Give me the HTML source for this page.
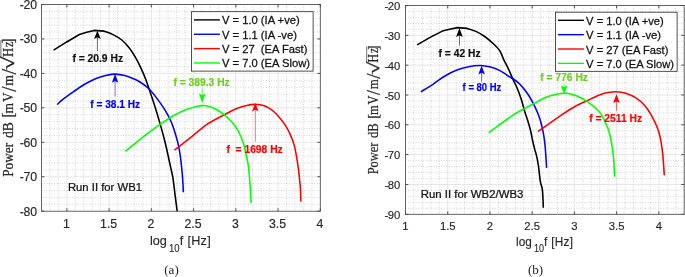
<!DOCTYPE html>
<html><head><meta charset="utf-8"><title>Power spectra</title>
<style>html,body{margin:0;padding:0;background:#fff}body{width:685px;height:277px;overflow:hidden;position:relative}</style>
</head><body>
<svg width="685" height="277" viewBox="0 0 685 277" style="position:absolute;left:0;top:0;display:block">
<rect width="685" height="277" fill="#fff"/>
<rect x="41.5" y="4.5" width="278.8" height="206.7" fill="#fff"/>
<path d="M49.95 4.5V211.2M58.4 4.5V211.2M75.29 4.5V211.2M83.74 4.5V211.2M92.19 4.5V211.2M100.64 4.5V211.2M117.54 4.5V211.2M125.98 4.5V211.2M134.43 4.5V211.2M142.88 4.5V211.2M159.78 4.5V211.2M168.23 4.5V211.2M176.68 4.5V211.2M185.12 4.5V211.2M202.02 4.5V211.2M210.47 4.5V211.2M218.92 4.5V211.2M227.37 4.5V211.2M244.26 4.5V211.2M252.71 4.5V211.2M261.16 4.5V211.2M269.61 4.5V211.2M286.51 4.5V211.2M294.95 4.5V211.2M303.4 4.5V211.2M311.85 4.5V211.2M41.5 204.31H320.3M41.5 197.42H320.3M41.5 190.53H320.3M41.5 183.64H320.3M41.5 169.86H320.3M41.5 162.97H320.3M41.5 156.08H320.3M41.5 149.19H320.3M41.5 135.41H320.3M41.5 128.52H320.3M41.5 121.63H320.3M41.5 114.74H320.3M41.5 100.96H320.3M41.5 94.07H320.3M41.5 87.18H320.3M41.5 80.29H320.3M41.5 66.51H320.3M41.5 59.62H320.3M41.5 52.73H320.3M41.5 45.84H320.3M41.5 32.06H320.3M41.5 25.17H320.3M41.5 18.28H320.3M41.5 11.39H320.3" stroke="#9c9c9c" stroke-width="0.55" stroke-dasharray="0.8 1.75" fill="none"/>
<path d="M66.85 4.5V211.2M109.09 4.5V211.2M151.33 4.5V211.2M193.57 4.5V211.2M235.82 4.5V211.2M278.06 4.5V211.2M41.5 176.75H320.3M41.5 142.3H320.3M41.5 107.85H320.3M41.5 73.4H320.3M41.5 38.95H320.3" stroke="#dfdfdf" stroke-width="0.8" fill="none"/>
<g fill="none" stroke-width="1.58" stroke-linejoin="round">
<path d="M53.6 50.2L66.3 42.2L79.4 34.5L86.7 32.3L94.2 30.4L104.2 31.15C105.67 31.73 110.07 33.12 113 34.6C115.93 36.07 119.05 37.73 121.8 40C124.55 42.27 127.08 45.05 129.5 48.2C131.92 51.35 134.32 55.42 136.3 58.9C138.28 62.38 139.87 65.8 141.4 69.1C142.93 72.4 144.17 75.23 145.5 78.7C146.83 82.17 148.02 85.85 149.4 89.9C150.78 93.95 152.53 99.1 153.8 103C155.07 106.9 155.9 109.65 157 113.3C158.1 116.95 159.23 120.78 160.4 124.9C161.57 129.02 162.98 134.1 164 138C165.02 141.9 165.77 145.13 166.5 148.3C167.23 151.47 167.72 153.85 168.4 157C169.08 160.15 169.87 163.87 170.6 167.2C171.33 170.53 172.27 174.08 172.8 177C173.33 179.92 173.35 181.15 173.8 184.7C174.25 188.25 174.93 193.87 175.5 198.3C176.07 202.73 176.92 209.13 177.2 211.3" stroke="#000"/>
<path d="M57.2 104.6C58.1 103.78 59.87 101.85 62.6 99.7C65.33 97.55 70.07 94.18 73.6 91.7C77.13 89.22 80.15 86.97 83.8 84.8C87.45 82.63 91.85 80.25 95.5 78.7C99.15 77.15 102.33 76.27 105.7 75.5C109.07 74.73 112.53 74.08 115.7 74.1C118.87 74.12 121.75 74.83 124.7 75.6C127.65 76.37 130.85 77.63 133.4 78.7C135.95 79.77 137.33 80.25 140 82C142.67 83.75 146.37 86.18 149.4 89.2C152.43 92.22 155.57 96.58 158.2 100.1C160.83 103.62 163.02 106.65 165.2 110.3C167.38 113.95 169.55 117.87 171.3 122C173.05 126.13 174.43 130.88 175.7 135.1C176.97 139.32 178.05 143.17 178.9 147.3C179.75 151.43 180.23 155.37 180.8 159.9C181.37 164.43 181.93 170.37 182.3 174.5C182.67 178.63 182.83 181.73 183 184.7C183.17 187.67 183.25 191.03 183.3 192.3" stroke="#0000ff"/>
<path d="M174.5 150.1C177.38 147.85 186.45 140.83 191.8 136.6C197.15 132.37 201.33 128.27 206.6 124.7C211.87 121.13 218.17 117.97 223.4 115.2C228.63 112.43 234.12 109.73 238 108.1C241.88 106.47 243.83 106.02 246.7 105.4C249.57 104.78 252.28 104.35 255.2 104.4C258.12 104.45 261.23 104.63 264.2 105.7C267.17 106.77 270.27 108.6 273 110.8C275.73 113 278.58 116.55 280.6 118.9C282.62 121.25 283.68 122.72 285.1 124.9C286.52 127.08 287.58 128.63 289.1 132C290.62 135.37 292.73 139.62 294.2 145.1C295.67 150.58 297 159.1 297.9 164.9C298.8 170.7 299.17 175.77 299.6 179.9C300.03 184.03 300.3 186.1 300.5 189.7C300.7 193.3 300.75 199.53 300.8 201.5" stroke="#ff0000"/>
<path d="M125.3 151.4C128.35 148.93 137.75 141.13 143.6 136.6C149.45 132.07 155.3 127.75 160.4 124.2C165.5 120.65 170 117.7 174.2 115.3C178.4 112.9 181.7 111.32 185.6 109.8C189.5 108.28 194.82 106.9 197.6 106.2C200.38 105.5 200.68 105.63 202.3 105.6C203.92 105.57 205.02 105.4 207.3 106C209.58 106.6 213.08 107.67 216 109.2C218.92 110.73 222.4 113.32 224.8 115.2C227.2 117.08 228.82 118.88 230.4 120.5C231.98 122.12 233.03 123.23 234.3 124.9C235.57 126.57 236.53 127.62 238 130.5C239.47 133.38 241.87 138.73 243.1 142.2C244.33 145.67 244.55 147.52 245.4 151.3C246.25 155.08 247.48 160.13 248.2 164.9C248.92 169.67 249.33 175.77 249.7 179.9C250.07 184.03 250.15 185.87 250.4 189.7C250.65 193.53 251.07 200.7 251.2 202.9" stroke="#00ff00"/>
</g>
<path d="M66.85 211.2v-2.9M66.85 4.5v2.9M109.09 211.2v-2.9M109.09 4.5v2.9M151.33 211.2v-2.9M151.33 4.5v2.9M193.57 211.2v-2.9M193.57 4.5v2.9M235.82 211.2v-2.9M235.82 4.5v2.9M278.06 211.2v-2.9M278.06 4.5v2.9M320.3 211.2v-2.9M320.3 4.5v2.9M41.5 4.5h2.9M320.3 4.5h-2.9M41.5 38.95h2.9M320.3 38.95h-2.9M41.5 73.4h2.9M320.3 73.4h-2.9M41.5 107.85h2.9M320.3 107.85h-2.9M41.5 142.3h2.9M320.3 142.3h-2.9M41.5 176.75h2.9M320.3 176.75h-2.9M41.5 211.2h2.9M320.3 211.2h-2.9" stroke="#262626" stroke-width="0.8" fill="none"/>
<rect x="41.5" y="4.5" width="278.8" height="206.7" fill="none" stroke="#484848" stroke-width="0.85"/>
<g font-family="'Liberation Sans',Arial,sans-serif" font-size="12.3" fill="#262626" stroke="#262626" stroke-width="0.15">
<text transform="translate(37.2 8.9) scale(1 1.08)" text-anchor="end">-<tspan dx="-0.3">20</tspan></text>
<text transform="translate(37.2 43.35) scale(1 1.08)" text-anchor="end">-<tspan dx="-0.3">30</tspan></text>
<text transform="translate(37.2 77.8) scale(1 1.08)" text-anchor="end">-<tspan dx="-0.3">40</tspan></text>
<text transform="translate(37.2 112.25) scale(1 1.08)" text-anchor="end">-<tspan dx="-0.3">50</tspan></text>
<text transform="translate(37.2 146.7) scale(1 1.08)" text-anchor="end">-<tspan dx="-0.3">60</tspan></text>
<text transform="translate(37.2 181.15) scale(1 1.08)" text-anchor="end">-<tspan dx="-0.3">70</tspan></text>
<text transform="translate(37.2 215.6) scale(1 1.08)" text-anchor="end">-<tspan dx="-0.3">80</tspan></text>
<text transform="translate(66.35 227.8) scale(1 1.08)" text-anchor="middle">1</text>
<text transform="translate(108.59 227.8) scale(1 1.08)" text-anchor="middle">1.5</text>
<text transform="translate(150.83 227.8) scale(1 1.08)" text-anchor="middle">2</text>
<text transform="translate(193.07 227.8) scale(1 1.08)" text-anchor="middle">2.5</text>
<text transform="translate(235.32 227.8) scale(1 1.08)" text-anchor="middle">3</text>
<text transform="translate(277.56 227.8) scale(1 1.08)" text-anchor="middle">3.5</text>
<text transform="translate(319.8 227.8) scale(1 1.08)" text-anchor="middle">4</text>
</g>
<rect x="405.5" y="5.5" width="278.7" height="208.8" fill="#fff"/>
<path d="M413.95 5.5V214.3M422.39 5.5V214.3M430.84 5.5V214.3M439.28 5.5V214.3M456.17 5.5V214.3M464.62 5.5V214.3M473.06 5.5V214.3M481.51 5.5V214.3M498.4 5.5V214.3M506.85 5.5V214.3M515.29 5.5V214.3M523.74 5.5V214.3M540.63 5.5V214.3M549.07 5.5V214.3M557.52 5.5V214.3M565.96 5.5V214.3M582.85 5.5V214.3M591.3 5.5V214.3M599.75 5.5V214.3M608.19 5.5V214.3M625.08 5.5V214.3M633.53 5.5V214.3M641.97 5.5V214.3M650.42 5.5V214.3M667.31 5.5V214.3M675.75 5.5V214.3M405.5 208.33H684.2M405.5 202.37H684.2M405.5 196.4H684.2M405.5 190.44H684.2M405.5 178.51H684.2M405.5 172.54H684.2M405.5 166.57H684.2M405.5 160.61H684.2M405.5 148.68H684.2M405.5 142.71H684.2M405.5 136.75H684.2M405.5 130.78H684.2M405.5 118.85H684.2M405.5 112.88H684.2M405.5 106.92H684.2M405.5 100.95H684.2M405.5 89.02H684.2M405.5 83.05H684.2M405.5 77.09H684.2M405.5 71.12H684.2M405.5 59.19H684.2M405.5 53.23H684.2M405.5 47.26H684.2M405.5 41.29H684.2M405.5 29.36H684.2M405.5 23.4H684.2M405.5 17.43H684.2M405.5 11.47H684.2" stroke="#9c9c9c" stroke-width="0.55" stroke-dasharray="0.8 1.75" fill="none"/>
<path d="M447.73 5.5V214.3M489.95 5.5V214.3M532.18 5.5V214.3M574.41 5.5V214.3M616.64 5.5V214.3M658.86 5.5V214.3M405.5 184.47H684.2M405.5 154.64H684.2M405.5 124.81H684.2M405.5 94.99H684.2M405.5 65.16H684.2M405.5 35.33H684.2" stroke="#dfdfdf" stroke-width="0.8" fill="none"/>
<g fill="none" stroke-width="1.58" stroke-linejoin="round">
<path d="M417.2 44.9L429.2 37.9L442.3 31.1L449.6 29.2L457.7 27.6L467.2 28.4C468.65 28.9 472.98 30.05 475.9 31.4C478.82 32.75 481.78 34.43 484.7 36.5C487.62 38.57 490.85 41.37 493.4 43.8C495.95 46.23 498.3 48.52 500 51.1C501.7 53.68 502.15 56.23 503.6 59.3C505.05 62.37 507.22 66.33 508.7 69.5C510.18 72.67 511.17 75.38 512.5 78.3C513.83 81.22 515.27 83.6 516.7 87C518.13 90.4 519.8 94.73 521.1 98.7C522.4 102.67 523.4 107.17 524.5 110.8C525.6 114.43 526.68 117.18 527.7 120.5C528.72 123.82 529.78 127.37 530.6 130.7C531.42 134.03 531.93 137.47 532.6 140.5C533.27 143.53 533.98 146.5 534.6 148.9C535.22 151.3 535.8 152.92 536.3 154.9C536.8 156.88 537.22 158.75 537.6 160.8C537.98 162.85 538.15 163.78 538.6 167.2C539.05 170.62 539.68 177.65 540.3 181.3C540.92 184.95 541.85 186.1 542.3 189.1C542.75 192.1 542.83 196.2 543 199.3C543.17 202.4 543.25 206.3 543.3 207.7" stroke="#000"/>
<path d="M420.9 91.8C423.02 90.47 429.53 86.48 433.6 83.8C437.67 81.12 441.42 78.02 445.3 75.7C449.18 73.38 453.02 71.4 456.9 69.9C460.78 68.4 464.7 67.43 468.6 66.7C472.5 65.97 476.65 65.45 480.3 65.5C483.95 65.55 487.22 66.15 490.5 67C493.78 67.85 497.22 69.22 500 70.6C502.78 71.98 504.17 73.3 507.2 75.3C510.23 77.3 514.92 79.68 518.2 82.6C521.48 85.52 524.35 89.27 526.9 92.8C529.45 96.33 531.75 100.55 533.5 103.8C535.25 107.05 536.18 109.27 537.4 112.3C538.62 115.33 539.75 118.2 540.8 122C541.85 125.8 542.97 130.88 543.7 135.1C544.43 139.32 544.72 141.83 545.2 147.3C545.68 152.77 546.37 164.47 546.6 167.9" stroke="#0000ff"/>
<path d="M538.2 131.5C542.17 128.7 555.93 118.83 562 114.7C568.07 110.57 570.43 109.02 574.6 106.7C578.77 104.38 582.87 102.75 587 100.8C591.13 98.85 595.87 96.38 599.4 95C602.93 93.62 605.4 93.09 608.2 92.55C611 92.01 613.28 91.65 616.2 91.75C619.12 91.85 622.42 92.12 625.7 93.15C628.98 94.17 632.77 95.87 635.9 97.9C639.03 99.92 642.03 102.6 644.5 105.3C646.97 108 648.7 110.7 650.7 114.1C652.7 117.5 655.03 122.3 656.5 125.7C657.97 129.1 658.72 131.65 659.5 134.5C660.28 137.35 660.65 139.4 661.2 142.8C661.75 146.2 662.28 149.48 662.8 154.9C663.32 160.32 664.05 171.9 664.3 175.3" stroke="#ff0000"/>
<path d="M488.7 132.6C492.88 129.62 507.67 118.78 513.8 114.7C519.93 110.62 522.22 109.92 525.5 108.1C528.78 106.28 530.1 105.62 533.5 103.8C536.9 101.98 541.88 98.83 545.9 97.2C549.92 95.57 554.55 94.67 557.6 94C560.65 93.33 562.33 93.28 564.2 93.2C566.07 93.12 566.58 93 568.8 93.5C571.02 94 574.47 94.9 577.5 96.2C580.53 97.5 584.17 99.48 587 101.3C589.83 103.12 592.17 104.97 594.5 107.1C596.83 109.23 598.93 111 601 114.1C603.07 117.2 605.43 122.3 606.9 125.7C608.37 129.1 609.03 131.65 609.8 134.5C610.57 137.35 610.88 138.92 611.5 142.8C612.12 146.68 612.98 152.13 613.5 157.8C614.02 163.47 614.42 173.63 614.6 176.8" stroke="#00ff00"/>
</g>
<path d="M405.5 214.3v-2.9M405.5 5.5v2.9M447.73 214.3v-2.9M447.73 5.5v2.9M489.95 214.3v-2.9M489.95 5.5v2.9M532.18 214.3v-2.9M532.18 5.5v2.9M574.41 214.3v-2.9M574.41 5.5v2.9M616.64 214.3v-2.9M616.64 5.5v2.9M658.86 214.3v-2.9M658.86 5.5v2.9M405.5 5.5h2.9M684.2 5.5h-2.9M405.5 35.33h2.9M684.2 35.33h-2.9M405.5 65.16h2.9M684.2 65.16h-2.9M405.5 94.99h2.9M684.2 94.99h-2.9M405.5 124.81h2.9M684.2 124.81h-2.9M405.5 154.64h2.9M684.2 154.64h-2.9M405.5 184.47h2.9M684.2 184.47h-2.9M405.5 214.3h2.9M684.2 214.3h-2.9" stroke="#262626" stroke-width="0.8" fill="none"/>
<rect x="405.5" y="5.5" width="278.7" height="208.8" fill="none" stroke="#484848" stroke-width="0.85"/>
<g font-family="'Liberation Sans',Arial,sans-serif" font-size="11.3" fill="#262626" stroke="#262626" stroke-width="0.15">
<text transform="translate(400.4 10.1) scale(1 1.04)" text-anchor="end">-<tspan dx="-0.3">20</tspan></text>
<text transform="translate(400.4 39.93) scale(1 1.04)" text-anchor="end">-<tspan dx="-0.3">30</tspan></text>
<text transform="translate(400.4 69.76) scale(1 1.04)" text-anchor="end">-<tspan dx="-0.3">40</tspan></text>
<text transform="translate(400.4 99.59) scale(1 1.04)" text-anchor="end">-<tspan dx="-0.3">50</tspan></text>
<text transform="translate(400.4 129.41) scale(1 1.04)" text-anchor="end">-<tspan dx="-0.3">60</tspan></text>
<text transform="translate(400.4 159.24) scale(1 1.04)" text-anchor="end">-<tspan dx="-0.3">70</tspan></text>
<text transform="translate(400.4 189.07) scale(1 1.04)" text-anchor="end">-<tspan dx="-0.3">80</tspan></text>
<text transform="translate(400.4 218.9) scale(1 1.04)" text-anchor="end">-<tspan dx="-0.3">90</tspan></text>
<text transform="translate(405.5 230) scale(1 1.04)" text-anchor="middle">1</text>
<text transform="translate(447.73 230) scale(1 1.04)" text-anchor="middle">1.5</text>
<text transform="translate(489.95 230) scale(1 1.04)" text-anchor="middle">2</text>
<text transform="translate(532.18 230) scale(1 1.04)" text-anchor="middle">2.5</text>
<text transform="translate(574.41 230) scale(1 1.04)" text-anchor="middle">3</text>
<text transform="translate(616.64 230) scale(1 1.04)" text-anchor="middle">3.5</text>
<text transform="translate(658.86 230) scale(1 1.04)" text-anchor="middle">4</text>
</g>
<text transform="translate(67.9 190.6) scale(1 0.97)" font-family="'Liberation Sans',Arial,sans-serif" font-size="11.3" fill="#111" stroke="#111" stroke-width="0.25">Run II for WB1</text>
<text transform="translate(420.8 197.6) scale(1 0.97)" font-family="'Liberation Sans',Arial,sans-serif" font-size="11.4" fill="#111" stroke="#111" stroke-width="0.25">Run II for WB2/WB3</text>
<text transform="translate(0 245.3) scale(1 1.0)" font-family="'Liberation Sans',Arial,sans-serif" fill="#262626" stroke="#262626" stroke-width="0.12" font-size="12.65"><tspan x="150" y="0">log</tspan><tspan x="168.9" y="6.5" font-size="10.64" textLength="10.56" lengthAdjust="spacingAndGlyphs">10</tspan><tspan x="179.8" y="0" textLength="30.91" lengthAdjust="spacing">f [Hz]</tspan></text>
<text transform="translate(0 245.7) scale(1 1.03)" font-family="'Liberation Sans',Arial,sans-serif" fill="#262626" stroke="#262626" stroke-width="0.12" font-size="11.8"><tspan x="516.05" y="0">log</tspan><tspan x="534" y="5.83" font-size="9.79" textLength="10.01" lengthAdjust="spacingAndGlyphs">10</tspan><tspan x="544.1" y="0" textLength="28.84" lengthAdjust="spacing">f [Hz]</tspan></text>
<g transform="translate(12.5 176.6) rotate(-90) scale(1)" font-family="'Liberation Serif','Times New Roman',serif" fill="#262626" stroke="#262626" stroke-width="0.25">
<text><tspan x="-0.2" y="0" font-size="15.6" textLength="33.9" lengthAdjust="spacingAndGlyphs">Power</tspan> <tspan x="38.6" y="0" font-size="15.6" textLength="15.9" lengthAdjust="spacingAndGlyphs">dB</tspan> <tspan x="59.2" y="1.6" font-size="16.5" textLength="5" lengthAdjust="spacingAndGlyphs">[</tspan><tspan x="63.2" y="0" font-size="15.6" textLength="10.5" lengthAdjust="spacingAndGlyphs">m</tspan><tspan x="74.5" y="0" font-size="15.6" textLength="9.6" lengthAdjust="spacingAndGlyphs">V</tspan><tspan x="84.8" y="3" font-size="20.5" textLength="5.3" lengthAdjust="spacingAndGlyphs">/</tspan><tspan x="90.8" y="0" font-size="15.6" textLength="10.7" lengthAdjust="spacingAndGlyphs">m</tspan><tspan x="102.2" y="3" font-size="20.5" textLength="5.7" lengthAdjust="spacingAndGlyphs">/</tspan><tspan x="106.4" y="1.6" font-size="17.5" textLength="13.9" lengthAdjust="spacingAndGlyphs">√</tspan><tspan x="119.5" y="0" font-size="15.6" textLength="9.2" lengthAdjust="spacingAndGlyphs">H</tspan><tspan x="129.6" y="0" font-size="15.6" textLength="5.4" lengthAdjust="spacingAndGlyphs">z</tspan><tspan x="133" y="1.6" font-size="16.5" textLength="5" lengthAdjust="spacingAndGlyphs">]</tspan></text>
<path d="M119.9 -11.6H136.6" stroke="#262626" stroke-width="0.9" fill="none" opacity="0.75"/>
</g>
<g transform="translate(377.5 174.1) rotate(-90) scale(0.934)" font-family="'Liberation Serif','Times New Roman',serif" fill="#262626" stroke="#262626" stroke-width="0.25">
<text><tspan x="-0.2" y="0" font-size="15.6" textLength="33.9" lengthAdjust="spacingAndGlyphs">Power</tspan> <tspan x="38.6" y="0" font-size="15.6" textLength="15.9" lengthAdjust="spacingAndGlyphs">dB</tspan> <tspan x="59.2" y="0.7" font-size="16.5" textLength="5" lengthAdjust="spacingAndGlyphs">[</tspan><tspan x="63.2" y="0" font-size="15.6" textLength="10.5" lengthAdjust="spacingAndGlyphs">m</tspan><tspan x="74.5" y="0" font-size="15.6" textLength="9.6" lengthAdjust="spacingAndGlyphs">V</tspan><tspan x="84.8" y="3" font-size="20.5" textLength="5.3" lengthAdjust="spacingAndGlyphs">/</tspan><tspan x="90.8" y="0" font-size="15.6" textLength="10.7" lengthAdjust="spacingAndGlyphs">m</tspan><tspan x="102.2" y="3" font-size="20.5" textLength="5.7" lengthAdjust="spacingAndGlyphs">/</tspan><tspan x="106.4" y="1.6" font-size="17.5" textLength="13.9" lengthAdjust="spacingAndGlyphs">√</tspan><tspan x="119.5" y="0" font-size="15.6" textLength="9.2" lengthAdjust="spacingAndGlyphs">H</tspan><tspan x="129.6" y="0" font-size="15.6" textLength="5.4" lengthAdjust="spacingAndGlyphs">z</tspan><tspan x="133" y="0.7" font-size="16.5" textLength="5" lengthAdjust="spacingAndGlyphs">]</tspan></text>
<path d="M119.9 -11.6H136.6" stroke="#262626" stroke-width="0.9" fill="none" opacity="0.75"/>
</g>
<text x="171.5" y="273.9" text-anchor="middle" font-family="'Liberation Serif','Times New Roman',serif" font-size="13" fill="#222">(a)</text>
<text x="535.5" y="273.9" text-anchor="middle" font-family="'Liberation Serif','Times New Roman',serif" font-size="13" fill="#222">(b)</text>
<rect x="191.5" y="11.7" width="121.6" height="59.4" fill="#fff" stroke="#262626" stroke-width="0.8"/>
<path d="M193.9 19.9H219.9" stroke="#000" stroke-width="1.4"/>
<text transform="translate(222 24.3) scale(1 1.04)" font-family="'Liberation Sans',Arial,sans-serif" font-size="11.2" fill="#111" stroke="#111" stroke-width="0.25" xml:space="preserve">V = 1.0 (IA +ve)</text>
<path d="M193.9 34.25H219.9" stroke="#0000ff" stroke-width="1.4"/>
<text transform="translate(222 38.65) scale(1 1.04)" font-family="'Liberation Sans',Arial,sans-serif" font-size="11.2" fill="#111" stroke="#111" stroke-width="0.25" xml:space="preserve">V = 1.1 (IA -ve)</text>
<path d="M193.9 48.6H219.9" stroke="#ff0000" stroke-width="1.4"/>
<text transform="translate(222 53) scale(1 1.04)" font-family="'Liberation Sans',Arial,sans-serif" font-size="11.2" fill="#111" stroke="#111" stroke-width="0.25" xml:space="preserve">V = 27  (EA Fast)</text>
<path d="M193.9 62.95H219.9" stroke="#00ff00" stroke-width="1.4"/>
<text transform="translate(222 67.35) scale(1 1.04)" font-family="'Liberation Sans',Arial,sans-serif" font-size="11.2" fill="#111" stroke="#111" stroke-width="0.25" xml:space="preserve">V = 7.0 (EA Slow)</text>
<rect x="555.5" y="12.2" width="121.6" height="59.1" fill="#fff" stroke="#262626" stroke-width="0.8"/>
<path d="M557.9 20.3H583.9" stroke="#000" stroke-width="1.4"/>
<text transform="translate(586.1 25.1) scale(1 1.04)" font-family="'Liberation Sans',Arial,sans-serif" font-size="11.2" fill="#111" stroke="#111" stroke-width="0.25" xml:space="preserve">V = 1.0 (IA +ve)</text>
<path d="M557.9 34.65H583.9" stroke="#0000ff" stroke-width="1.4"/>
<text transform="translate(586.1 39.45) scale(1 1.04)" font-family="'Liberation Sans',Arial,sans-serif" font-size="11.2" fill="#111" stroke="#111" stroke-width="0.25" xml:space="preserve">V = 1.1 (IA -ve)</text>
<path d="M557.9 49H583.9" stroke="#ff0000" stroke-width="1.4"/>
<text transform="translate(586.1 53.8) scale(1 1.04)" font-family="'Liberation Sans',Arial,sans-serif" font-size="11.2" fill="#111" stroke="#111" stroke-width="0.25" xml:space="preserve">V = 27 (EA Fast)</text>
<path d="M557.9 63.35H583.9" stroke="#00ff00" stroke-width="1.4"/>
<text transform="translate(586.1 68.15) scale(1 1.04)" font-family="'Liberation Sans',Arial,sans-serif" font-size="11.2" fill="#111" stroke="#111" stroke-width="0.25" xml:space="preserve">V = 7.0 (EA Slow)</text>
<path d="M97.4 51V34.8" stroke="#000" stroke-width="0.6" fill="none"/>
<path d="M97.4 30.6L94.1 39L97.4 37.3L100.7 39Z" fill="#000"/>
<text transform="translate(72.4 62.45) scale(1 1.01)" font-family="'Liberation Sans',Arial,sans-serif" font-size="10.3" font-weight="bold" fill="#111" stroke="#111" stroke-width="0.2" xml:space="preserve">f = 20.9 Hz</text>
<path d="M115.1 96.6V78.4" stroke="#0000ff" stroke-width="0.9" opacity="0.62" fill="none"/>
<path d="M115.1 74L111.8 82.8L115.1 81.1L118.4 82.8Z" fill="#0000ff"/>
<text transform="translate(90.2 107.75) scale(1 1.01)" font-family="'Liberation Sans',Arial,sans-serif" font-size="10.15" font-weight="bold" fill="#0000ff" stroke="#0000ff" stroke-width="0.2" xml:space="preserve">f = 38.1 Hz</text>
<path d="M202.2 87.9V98.25" stroke="#00ff00" stroke-width="0.9" opacity="0.62" fill="none"/>
<path d="M202.2 103L198.9 93.5L202.2 95.2L205.5 93.5Z" fill="#00ff00"/>
<text transform="translate(173.4 85.65) scale(1 1.01)" font-family="'Liberation Sans',Arial,sans-serif" font-size="10.3" font-weight="bold" fill="#6fce20" stroke="#6fce20" stroke-width="0.2" xml:space="preserve">f = 389.3 Hz</text>
<path d="M255.3 141.6V107.15" stroke="#ff0000" stroke-width="0.9" opacity="0.62" fill="none"/>
<path d="M255.3 102.8L252 111.5L255.3 109.8L258.6 111.5Z" fill="#ff0000"/>
<text transform="translate(226.4 152.55) scale(1 1.01)" font-family="'Liberation Sans',Arial,sans-serif" font-size="10.3" font-weight="bold" fill="#ff0000" stroke="#ff0000" stroke-width="0.2" xml:space="preserve">f  = 1698 Hz</text>
<path d="M459.45 45.5V32.55" stroke="#000" stroke-width="0.6" fill="none"/>
<path d="M459.45 28.1L456.15 37L459.45 35.3L462.75 37Z" fill="#000"/>
<text transform="translate(438.5 56.75) scale(1 1.01)" font-family="'Liberation Sans',Arial,sans-serif" font-size="10.3" font-weight="bold" fill="#111" stroke="#111" stroke-width="0.2" xml:space="preserve">f = 42 Hz</text>
<path d="M481.6 81.8V70" stroke="#0000ff" stroke-width="0.9" opacity="0.62" fill="none"/>
<path d="M481.6 65.5L478.3 74.5L481.6 72.8L484.9 74.5Z" fill="#0000ff"/>
<text transform="translate(462.6 91.35) scale(1 1.06)" font-family="'Liberation Sans',Arial,sans-serif" font-size="9.5" font-weight="bold" fill="#0000ff" stroke="#0000ff" stroke-width="0.2" xml:space="preserve">f = 80 Hz</text>
<path d="M564.1 83.3V89.7" stroke="#00ff00" stroke-width="0.9" opacity="0.62" fill="none"/>
<path d="M564.1 94L560.8 85.4L564.1 87.1L567.4 85.4Z" fill="#00ff00"/>
<text transform="translate(540.2 81.05) scale(1 1.01)" font-family="'Liberation Sans',Arial,sans-serif" font-size="10.3" font-weight="bold" fill="#6fce20" stroke="#6fce20" stroke-width="0.2" xml:space="preserve">f = 776 Hz</text>
<path d="M616.5 110.8V98.5" stroke="#ff0000" stroke-width="0.9" opacity="0.62" fill="none"/>
<path d="M616.5 93.9L613.2 103.1L616.5 101.4L619.8 103.1Z" fill="#ff0000"/>
<text transform="translate(589.2 121.95) scale(1 1.01)" font-family="'Liberation Sans',Arial,sans-serif" font-size="10.3" font-weight="bold" fill="#ff0000" stroke="#ff0000" stroke-width="0.2" xml:space="preserve">f = 2511 Hz</text>
</svg>
</body></html>
